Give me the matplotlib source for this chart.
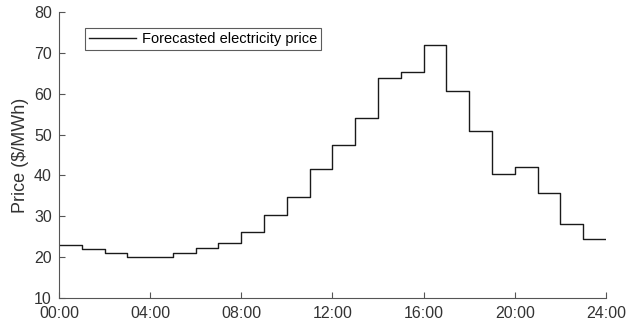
import numpy as np
import matplotlib
matplotlib.use("Agg")
import matplotlib.pyplot as plt

# hourly forecasted price ($/MWh), hour 0..23
hours = np.arange(24)
price = [23.1, 22.0, 21.0, 20.0, 20.0, 21.1, 22.3, 23.4, 26.2, 30.3, 34.7, 41.6,
         47.4, 54.0, 63.8, 65.2, 72.0, 60.6, 50.8, 40.4, 42.0, 35.6, 28.1, 24.4]
tick_hours = [0, 4, 8, 12, 16, 20, 24]
tick_labels = ["00:00", "04:00", "08:00", "12:00", "16:00", "20:00", "24:00"]
y_ticks = [10, 20, 30, 40, 50, 60, 70, 80]

plt.rcParams["font.family"] = ["Liberation Sans", "DejaVu Sans"]

fig = plt.figure(figsize=(6.27, 3.33), dpi=100)
ax = fig.add_axes([0.094, 0.105, 0.8725, 0.859])

x = np.append(hours, 24)
y = np.append(price, price[-1])
ax.plot(x, y, drawstyle="steps-post", color="#1a1a1a", lw=1.0,
        label="Forecasted electricity price")

ax.set_xlim(0, 24)
ax.set_ylim(10, 80)
ax.set_xticks(tick_hours)
ax.set_xticklabels(tick_labels)
ax.set_yticks(y_ticks)
ax.set_ylabel("Price ($/MWh)", fontsize=13, color="#333333", labelpad=4)

for s in ["top", "right"]:
    ax.spines[s].set_visible(False)
for s in ["left", "bottom"]:
    ax.spines[s].set_color("#555555")
    ax.spines[s].set_linewidth(0.8)
ax.tick_params(direction="in", length=4, width=0.8, colors="#555555",
               labelcolor="#333333", labelsize=11.5)
ax.tick_params(axis="x", pad=6)
ax.tick_params(axis="y", pad=5)

leg = ax.legend(loc="upper left", bbox_to_anchor=(0.047, 0.945),
                frameon=True, fancybox=False, fontsize=10.5,
                handlelength=3.2, handletextpad=0.4, borderpad=0.3,
                borderaxespad=0)
leg.get_frame().set_edgecolor("#333333")
leg.get_frame().set_linewidth(0.8)

fig.savefig("out.png", dpi=100)
